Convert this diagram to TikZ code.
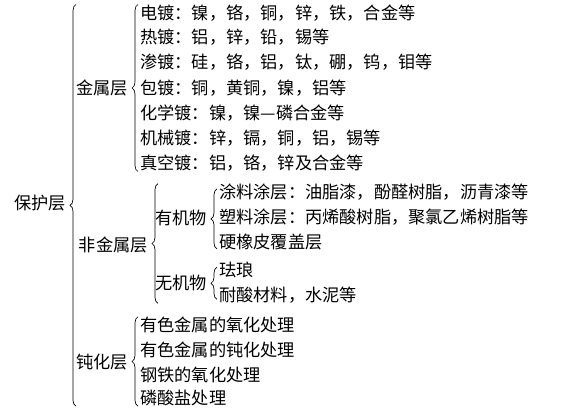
\documentclass[tikz,border=0pt]{standalone}
\usepackage{fontspec}
\newfontfamily\cjk{Noto Sans CJK SC}
\usetikzlibrary{decorations.pathreplacing}
\tikzset{
  item/.style={anchor=west,inner sep=0pt,font=\cjk\fontsize{12.9}{16}\selectfont},
  head/.style={anchor=east,inner sep=0pt,font=\cjk\fontsize{12.9}{16}\selectfont},
  brc/.style={decorate,decoration={brace,amplitude=4.5pt},line width=0.5pt}
}
\begin{document}
\begin{tikzpicture}[x=0.75pt,y=-0.75pt]
      \useasboundingbox (0,0) rectangle (566,412);
      \draw
        (140,13) node[item] (m1){电镀：镍，铬，铜，锌，铁，合金等}
        (140,37) node[item] (m2){热镀：铝，锌，铅，锡等}
        (140,62) node[item] (m3){渗镀：硅，铬，铝，钛，硼，钨，钼等}
        (140,88) node[item] (m4){包镀：铜，黄铜，镍，铝等}
        (140,113) node[item] (m5){化学镀：镍，镍—磷合金等}
        (140,138) node[item] (m6){机械镀：锌，镉，铜，铝，锡等}
        (140,163) node[item] (m7){真空镀：铝，铬，锌及合金等}
        (219,192) node[item] (n1){涂料涂层：油脂漆，酚醛树脂，沥青漆等}
        (219,217) node[item] (n2){塑料涂层：丙烯酸树脂，聚氯乙烯树脂等}
        (219,242) node[item] (n3){硬橡皮覆盖层}
        (219,270) node[item] (i1){珐琅}
        (219,295) node[item] (i2){耐酸材料，水泥等}
        (140,325) node[item] (p1){有色金属的氧化处理}
        (140,350) node[item] (p2){有色金属的钝化处理}
        (140,375) node[item] (p3){钢铁的氧化处理}
        (140,398) node[item] (p4){磷酸盐处理};
      \draw
        (66,203) node[head] (prot){保护层}
        (128,88) node[head] (metal){金属层}
        (148,245) node[head] (nonmetal){非金属层}
        (207,218) node[head] (organic){有机物}
        (207,283) node[head] (inorganic){无机物}
        (128,362) node[head] (passiv){钝化层};
      \coordinate (b0) at (76,0);
      \coordinate (b1) at (138,0);
      \coordinate (b2) at (158,0);
      \coordinate (b3) at (217,0);
      \draw[brc] (b0 |- p4.south) to (b0 |- m1.north);
      \draw[brc] (b1 |- m7.south) to (b1 |- m1.north);
      \draw[brc] (b2 |- i2.south) to (b2 |- n1.north);
      \draw[brc] ([yshift=1]b3 |- n3.south) to ([yshift=-4]b3 |- n1.north);
      \draw[brc] ([yshift=3]b3 |- i2.south) to ([yshift=-4]b3 |- i1.north);
      \draw[brc] (b1 |- p4.south) to (b1 |- p1.north);
    \end{tikzpicture}
\end{document}
